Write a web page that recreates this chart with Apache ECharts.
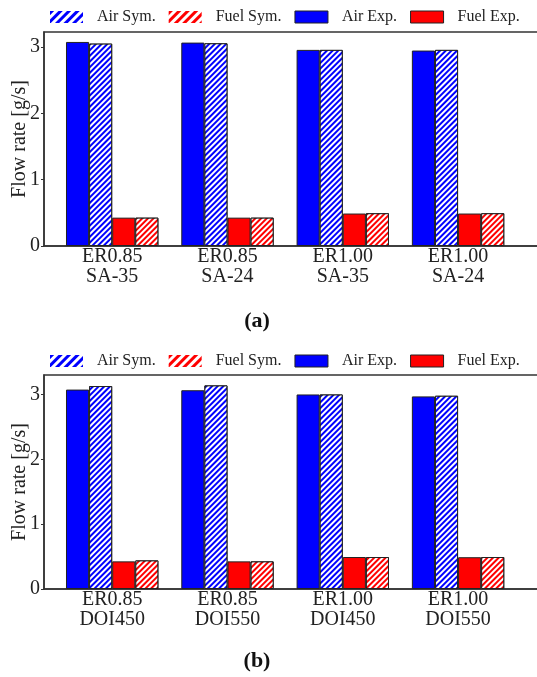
<!DOCTYPE html>
<html>
<head>
<meta charset="utf-8">
<script src="https://cdn.jsdelivr.net/npm/echarts@6/dist/echarts.min.js"></script>
<style>
html,body{margin:0;padding:0;background:#fff;}
#chart{width:537px;height:677px;}
</style>
</head>
<body>
<div id="chart"></div>
<script>
// ---- data ----
const categoriesA = ['ER0.85\nSA-35', 'ER0.85\nSA-24', 'ER1.00\nSA-35', 'ER1.00\nSA-24'];
const categoriesB = ['ER0.85\nDOI450', 'ER0.85\nDOI550', 'ER1.00\nDOI450', 'ER1.00\nDOI550'];
const airExpA  = [3.08, 3.07, 2.96, 2.95];
const airSymA  = [3.055, 3.06, 2.96, 2.96];
const fuelExpA = [0.428, 0.428, 0.49, 0.49];
const fuelSymA = [0.428, 0.428, 0.495, 0.495];
const airExpB  = [3.075, 3.065, 3.0, 2.97];
const airSymB  = [3.13, 3.14, 3.0, 2.98];
const fuelExpB = [0.426, 0.426, 0.493, 0.49];
const fuelSymB = [0.441, 0.426, 0.493, 0.493];
const yTicks = [0, 1, 2, 3];
const xPos = [0, 1, 2, 3];
const legendNames = ['Air Sym.', 'Fuel Sym.', 'Air Exp.', 'Fuel Exp.'];

const FONT = '"Liberation Serif", "Times New Roman", serif';
const BLUE = '#0000ff', RED = '#ff0000';
const hatch = {symbol: 'rect', symbolSize: 1, dashArrayX: [1, 0], dashArrayY: [1.5, 1.5], rotation: -Math.PI / 4, color: '#ffffff'};
const legendHatch = (c) => ({symbol: 'rect', symbolSize: 1, dashArrayX: [1, 0], dashArrayY: [2.5, 2.5], rotation: -Math.PI / 4, color: c});

function pairs(arr) { return arr.map((v, i) => [xPos[i], v]); }

const gridTops = [32, 375];
const yMaxes = [3.23, 3.3];

const grids = gridTops.map(t => ({left: 44, top: t, width: 501, height: 214, show: true, borderColor: '#333', borderWidth: 1.5, backgroundColor: 'transparent', containLabel: false, outerBoundsMode: 'none'}));

const xAxes = [categoriesA, categoriesB].map((cats, gi) => ({
  type: 'value', gridIndex: gi, min: -0.5915, max: 3.754,
  axisLine: {show: true, onZero: false, lineStyle: {color: '#333', width: 1.5}},
  axisTick: {show: false},
  splitLine: {show: false},
  axisLabel: {customValues: xPos, formatter: v => cats[Math.round(v)], fontFamily: FONT, fontSize: 20, color: '#222', lineHeight: 20, margin: 1}
}));

const yAxes = yMaxes.map((mx, gi) => ({
  type: 'value', gridIndex: gi, min: 0, max: mx,
  name: 'Flow rate [g/s]', nameLocation: 'middle', nameGap: 14, nameMoveOverlap: false,
  nameTextStyle: {fontFamily: FONT, fontSize: 20, color: '#222'},
  axisLine: {show: true, onZero: false, lineStyle: {color: '#333', width: 1.5}},
  axisTick: {show: true, length: 3, customValues: yTicks, lineStyle: {color: '#333'}},
  splitLine: {show: false},
  axisLabel: {customValues: yTicks, fontFamily: FONT, fontSize: 20, color: '#222', margin: 4}
}));

function makeSeries(gi, airExp, airSym, fuelExp, fuelSym) {
  const base = {type: 'bar', xAxisIndex: gi, yAxisIndex: gi, barWidth: 23.1, barGap: '0%', animation: false};
  return [
    Object.assign({}, base, {name: 'Air Exp.', data: pairs(airExp), itemStyle: {color: BLUE, borderColor: '#222', borderWidth: 1}}),
    Object.assign({}, base, {name: 'Air Sym.', data: pairs(airSym), itemStyle: {color: BLUE, borderColor: '#222', borderWidth: 1, decal: hatch}}),
    Object.assign({}, base, {name: 'Fuel Exp.', data: pairs(fuelExp), itemStyle: {color: RED, borderColor: '#222', borderWidth: 1}}),
    Object.assign({}, base, {name: 'Fuel Sym.', data: pairs(fuelSym), itemStyle: {color: RED, borderColor: '#222', borderWidth: 1, decal: hatch}})
  ];
}

const legendItems = [
  {name: legendNames[0], itemStyle: {color: '#fff', borderWidth: 0, decal: legendHatch(BLUE)}},
  {name: legendNames[1], itemStyle: {color: '#fff', borderWidth: 0, decal: legendHatch(RED)}},
  {name: legendNames[2], itemStyle: {color: BLUE, borderColor: '#222', borderWidth: 1}},
  {name: legendNames[3], itemStyle: {color: RED, borderColor: '#222', borderWidth: 1}}
];

const legends = [9, 353].map(t => ({
  left: 50, top: t, padding: 0, itemWidth: 33, itemHeight: 12, itemGap: 13, icon: 'rect',
  selectedMode: false,
  data: legendItems,
  textStyle: {fontFamily: FONT, fontSize: 16, color: '#222', padding: [0, 0, 0, 9]}
}));

const chart = echarts.init(document.getElementById('chart'), null, {renderer: 'canvas'});
chart.setOption({
  animation: false,
  backgroundColor: '#fff',
  grid: grids,
  xAxis: xAxes,
  yAxis: yAxes,
  legend: legends,
  series: makeSeries(0, airExpA, airSymA, fuelExpA, fuelSymA).concat(makeSeries(1, airExpB, airSymB, fuelExpB, fuelSymB)),
  graphic: [
    {type: 'text', x: 257, y: 321, style: {text: '(a)', font: 'bold 22px ' + FONT, fill: '#111', align: 'center', verticalAlign: 'middle'}},
    {type: 'text', x: 257, y: 661, style: {text: '(b)', font: 'bold 22px ' + FONT, fill: '#111', align: 'center', verticalAlign: 'middle'}}
  ]
});
</script>
</body>
</html>
